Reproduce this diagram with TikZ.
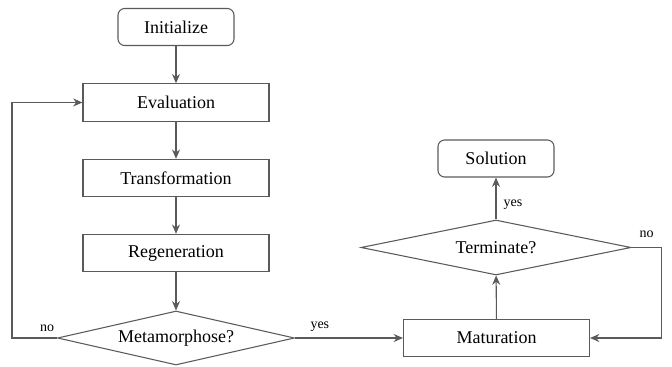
\documentclass[tikz,border=0pt]{standalone}
\usepackage{fontspec}
\setmainfont{Liberation Serif}
\usetikzlibrary{shapes.geometric,arrows.meta}
\definecolor{lncol}{RGB}{90,90,90}
\begin{document}
\begin{tikzpicture}[x=0.75pt,y=0.75pt,yscale=-1,
  every node/.style={font=\rmfamily\fontsize{13.5}{15}\selectfont},
  termbox/.style={draw=lncol,line width=0.8pt,rounded corners=5pt,minimum width=87pt,minimum height=27.75pt,inner sep=0pt},
  procbox/.style={draw=lncol,line width=0.8pt,minimum width=139.5pt,minimum height=28pt,inner sep=0pt},
  decide/.style={draw=lncol,line width=0.8pt,diamond,inner sep=0pt},
  lbl/.style={font=\rmfamily\fontsize{10.5}{12}\selectfont},
  flow/.style={draw=lncol,line width=0.8pt,-{Stealth[length=7pt,width=6pt]}}]
\useasboundingbox (0,0) rectangle (672,367);

% Left column
\node[termbox] (init) at (176,27) {Initialize};
\node[procbox] (eval) at (176,102.5) {Evaluation};
\node[procbox] (trans) at (176,178) {Transformation};
\node[procbox] (regen) at (176,253) {Regeneration};
\node[decide,aspect=4.4,minimum width=177.75pt,minimum height=40.5pt] (meta) at (176,338) {Metamorphose?};

% Right column
\node[procbox] (mat) at (496.5,338) {Maturation};
\node[decide,aspect=4.9,minimum width=202.5pt,minimum height=41.25pt] (term) at (496,247.5) {Terminate?};
\node[termbox] (sol) at (496,158.5) {Solution};

% Connections
\draw[flow] (init) -- (eval);
\draw[flow] (eval) -- (trans);
\draw[flow] (trans) -- (regen);
\draw[flow] (regen) -- (meta);
\draw[flow] (meta.west) -- node[lbl,pos=0.22,above=1pt] (noA) {no} ++(-45,0) |- (eval.west);
\draw[flow] (meta.east) -- node[lbl,pos=0.23,above=1pt] (yesA) {yes} (mat.west);
\draw[flow] (mat) -- (term);
\draw[flow] (term) -- node[lbl,pos=0.35,right=2pt] (yesB) {yes} (sol);
\draw[flow] (term.east) -- node[lbl,pos=0.5,above=4pt] (noB) {no} ++(30,0) |- (mat.east);
\end{tikzpicture}
\end{document}
